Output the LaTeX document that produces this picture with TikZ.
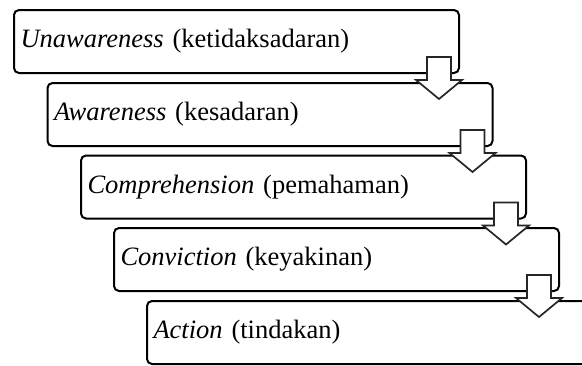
\documentclass[tikz,border=0pt]{standalone}
\usepackage{fontspec}
\setmainfont{Liberation Serif}
\usetikzlibrary{calc}
\tikzset{
  stagebox/.style={draw=black, line width=1pt, rounded corners=2.5pt, anchor=north west,
    minimum height=31.5pt, text width=216pt, inner xsep=3.25pt, inner ysep=0pt, align=left,
    font=\fontsize{13.25pt}{15pt}\selectfont},
  blockarrow/.style={draw=black!85, line width=0.85pt, fill=white, line join=miter}
}
\newcommand\stagearrow[1]{\draw[blockarrow] ($(#1.south east)+(-33,-17)$) -- ++(24,0) -- ++(0,23) -- ++(11,0) -- ++(-23,19) -- ++(-23,-19) -- ++(11,0) -- cycle;}
\begin{document}
\begin{tikzpicture}[x=0.5pt,y=-0.5pt]
\clip (0,0) rectangle (582,365);
\fill[white] (0,0) rectangle (582,365);
\node[stagebox] (b1) at (13,9) {{\itshape Unawareness} (ketidaksadaran)};
\node[stagebox] (b2) at (46.5,82) {{\itshape Awareness} (kesadaran)};
\node[stagebox] (b3) at (80,154.5) {{\itshape Comprehension} (pemahaman)};
\node[stagebox] (b4) at (113,227) {{\itshape Conviction} (keyakinan)};
\node[stagebox] (b5) at (146,300) {{\itshape Action} (tindakan)};
\stagearrow{b1}
\stagearrow{b2}
\stagearrow{b3}
\stagearrow{b4}
\end{tikzpicture}
\end{document}
